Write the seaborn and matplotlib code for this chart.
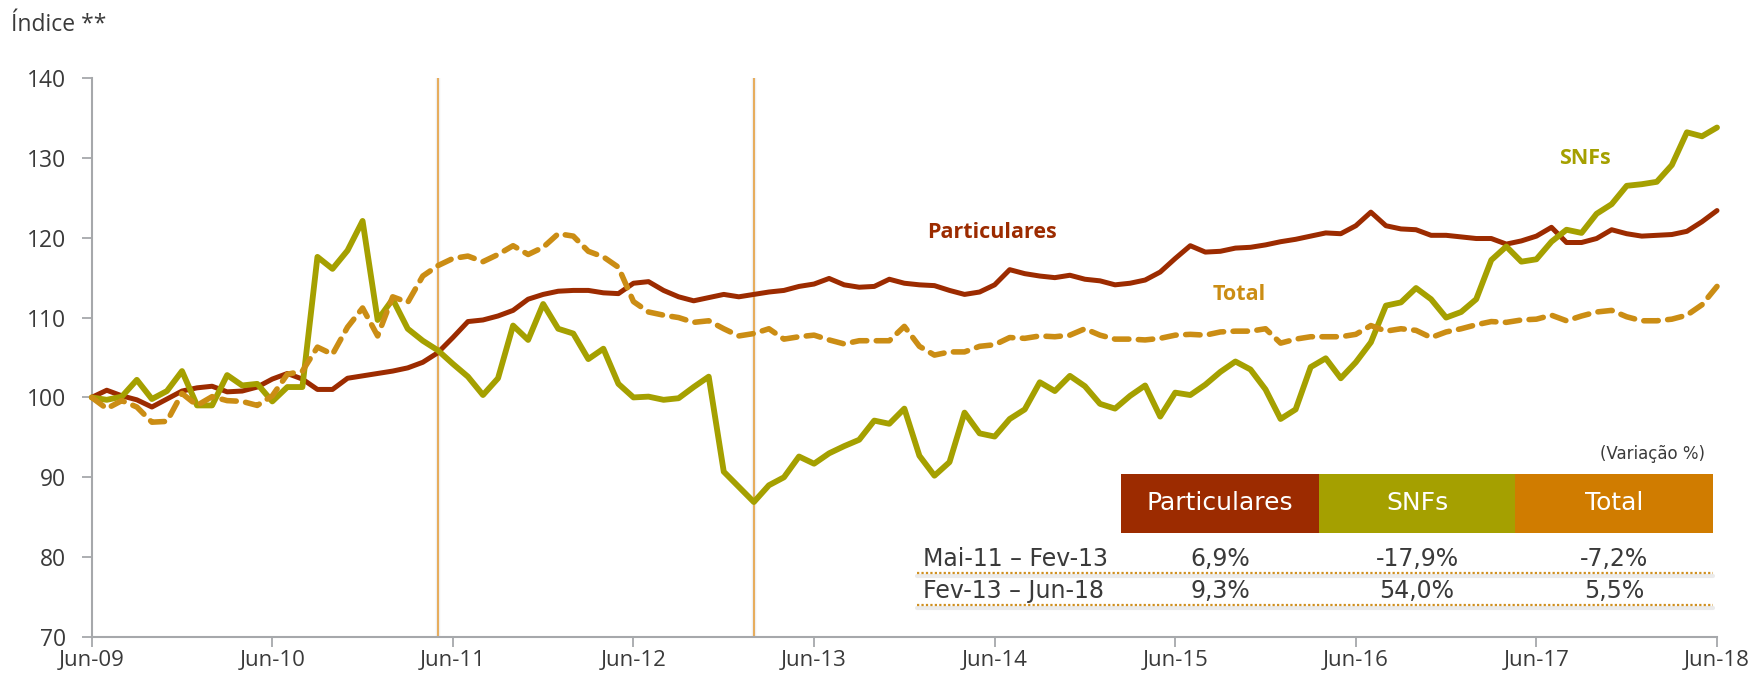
import numpy as np
import pandas as pd
import matplotlib
matplotlib.use("Agg")
import matplotlib.pyplot as plt
from matplotlib.patches import Rectangle
from matplotlib.lines import Line2D
import seaborn as sns

# Monthly index (Jun-09 = 100), Jun-09 .. Jun-18
particulares = [
    100.0, 100.9, 100.2, 99.7, 98.8, 99.8, 100.8, 101.2, 101.4, 100.7, 100.8, 101.3,
    102.3, 103.0, 102.3, 101.0, 101.0, 102.4, 102.7, 103.0, 103.3, 103.7, 104.4, 105.6,
    107.5, 109.5, 109.7, 110.2, 110.9, 112.3, 112.9, 113.3, 113.4, 113.4, 113.1, 113.0,
    114.3, 114.5, 113.4, 112.6, 112.1, 112.5, 112.9, 112.6, 112.9, 113.2, 113.4, 113.9,
    114.2, 114.9, 114.1, 113.8, 113.9, 114.8, 114.3, 114.1, 114.0, 113.4, 112.9, 113.2,
    114.1, 116.0, 115.5, 115.2, 115.0, 115.3, 114.8, 114.6, 114.1, 114.3, 114.7, 115.7,
    117.4, 119.0, 118.2, 118.3, 118.7, 118.8, 119.1, 119.5, 119.8, 120.2, 120.6, 120.5,
    121.5, 123.2, 121.5, 121.1, 121.0, 120.3, 120.3, 120.1, 119.9, 119.9, 119.2, 119.6,
    120.2, 121.3, 119.4, 119.4, 119.9, 121.0, 120.5, 120.2, 120.3, 120.4, 120.8, 122.0,
    123.4,
]
snfs = [
    100.0, 99.7, 100.1, 102.2, 99.8, 100.8, 103.3, 99.0, 99.0, 102.8, 101.5, 101.7,
    99.5, 101.3, 101.3, 117.6, 116.1, 118.4, 122.1, 109.7, 112.3, 108.6, 107.1, 105.9,
    104.2, 102.6, 100.3, 102.4, 109.0, 107.2, 111.7, 108.6, 108.0, 104.8, 106.1, 101.7,
    100.0, 100.1, 99.7, 99.9, 101.3, 102.6, 90.7, 88.8, 86.9, 89.0, 90.0, 92.6,
    91.7, 93.0, 93.9, 94.7, 97.1, 96.7, 98.6, 92.7, 90.2, 91.9, 98.1, 95.5,
    95.1, 97.3, 98.5, 101.9, 100.8, 102.7, 101.4, 99.2, 98.6, 100.2, 101.5, 97.6,
    100.6, 100.3, 101.6, 103.2, 104.5, 103.5, 101.0, 97.3, 98.5, 103.8, 104.9, 102.4,
    104.4, 106.9, 111.5, 111.9, 113.7, 112.3, 110.0, 110.7, 112.3, 117.2, 118.9, 117.0,
    117.3, 119.5, 121.0, 120.6, 123.0, 124.2, 126.5, 126.7, 127.0, 129.1, 133.2, 132.7,
    133.8,
]
total = [
    100.0, 98.6, 99.6, 98.8, 96.9, 97.0, 100.5, 99.0, 100.1, 99.6, 99.5, 99.0,
    100.2, 102.9, 103.3, 106.3, 105.4, 108.8, 111.2, 107.7, 112.6, 111.9, 115.2, 116.5,
    117.4, 117.7, 117.0, 117.9, 119.0, 117.9, 118.8, 120.5, 120.2, 118.3, 117.6, 116.3,
    112.0, 110.7, 110.3, 110.0, 109.4, 109.6, 108.6, 107.7, 108.0, 108.6, 107.3, 107.6,
    107.8, 107.2, 106.7, 107.1, 107.1, 107.1, 108.9, 106.4, 105.3, 105.7, 105.7, 106.4,
    106.6, 107.5, 107.4, 107.7, 107.6, 107.8, 108.6, 107.8, 107.3, 107.3, 107.2, 107.4,
    107.8, 107.9, 107.8, 108.2, 108.3, 108.3, 108.6, 106.8, 107.3, 107.6, 107.6, 107.6,
    107.9, 109.0, 108.3, 108.6, 108.4, 107.5, 108.2, 108.6, 109.1, 109.5, 109.4, 109.7,
    109.8, 110.3, 109.6, 110.2, 110.7, 110.9, 110.1, 109.6, 109.6, 109.8, 110.3, 111.6,
    113.9,
]
tick_labels = ["Jun-09", "Jun-10", "Jun-11", "Jun-12", "Jun-13",
               "Jun-14", "Jun-15", "Jun-16", "Jun-17", "Jun-18"]
y_ticks = [70, 80, 90, 100, 110, 120, 130, 140]
period_marks = [23, 44]  # Mai-11 and Fev-13

table_cols = ["Particulares", "SNFs", "Total"]
table_rows = ["Mai-11 \u2013 Fev-13", "Fev-13 \u2013 Jun-18"]
table_vals = [["6,9%", "-17,9%", "-7,2%"],
              ["9,3%", "54,0%", "5,5%"]]

C_PART = "#9C2B00"
C_SNF = "#A5A000"
C_TOT = "#CB8D14"
C_TOT_HDR = "#D07C00"
C_AXIS = "#A6A8AB"
C_TEXT = "#3A3A3A"

sns.set_theme(style="white")
plt.rcParams["font.family"] = ["Open Sans", "DejaVu Sans"]

months = np.arange(len(particulares))
df = pd.DataFrame({"mes": months, "Particulares": particulares,
                   "SNFs": snfs, "Total": total})

W, H = 1753, 680
fig = plt.figure(figsize=(W / 100, H / 100), dpi=100)
ax = fig.add_axes([91.7 / W, 1 - 637 / H, (1717 - 91.7) / W, (637 - 78) / H])

def fx(px):
    return px / W

def fy(py):
    return 1 - py / H

# period markers
for m in period_marks:
    ax.axvline(m, color="#9a9a9a", alpha=0.15, lw=3.2, zorder=1)
    ax.axvline(m, color="#E6A040", lw=1.2, zorder=1.5)

sns.lineplot(data=df, x="mes", y="Particulares", ax=ax, color=C_PART,
             lw=3.6, zorder=3, clip_on=False)
sns.lineplot(data=df, x="mes", y="SNFs", ax=ax, color=C_SNF,
             lw=4.2, zorder=4, clip_on=False)
sns.lineplot(data=df, x="mes", y="Total", ax=ax, color=C_TOT,
             lw=4.0, zorder=5, clip_on=False)
tot_line = ax.get_lines()[-1]
tot_line.set_dashes((2.6, 1.7))
tot_line.set_dash_capstyle("round")

ax.set_xlim(0, 108)
ax.set_ylim(70, 140)
ax.set_xticks(np.arange(0, 109, 12))
ax.set_xticklabels(tick_labels)
ax.set_yticks(y_ticks)
ax.set_xlabel("")
ax.set_ylabel("")
for s in ["top", "right"]:
    ax.spines[s].set_visible(False)
for s in ["left", "bottom"]:
    ax.spines[s].set_color(C_AXIS)
    ax.spines[s].set_linewidth(1.5)
ax.tick_params(axis="y", direction="out", length=7.5, width=1.3, color=C_AXIS,
               labelsize=16.5, labelcolor=C_TEXT, pad=11, left=True)
ax.tick_params(axis="x", direction="out", length=7, width=1.3, color=C_AXIS,
               labelsize=16, labelcolor=C_TEXT, pad=2.5, bottom=True)
ax.grid(False)

fig.text(fx(11), fy(25), "\u00cdndice **", fontsize=16.5, color=C_TEXT,
         ha="left", va="center")

# series labels
fig.text(fx(992), fy(232), "Particulares", fontsize=15.5, fontweight="bold",
         color=C_PART, ha="center", va="center")
fig.text(fx(1239), fy(294), "Total", fontsize=15.5, fontweight="bold",
         color=C_TOT, ha="center", va="center")
fig.text(fx(1585), fy(158), "SNFs", fontsize=15.5, fontweight="bold",
         color=C_SNF, ha="center", va="center")

# summary table
narrow = ["Liberation Sans Narrow", "DejaVu Sans"]
hdr_x = [1121, 1319, 1515, 1713]
hdr_colors = [C_PART, C_SNF, C_TOT_HDR]
hdr_top, hdr_bot = 474, 533
for i, name in enumerate(table_cols):
    x0, x1 = hdr_x[i], hdr_x[i + 1]
    fig.add_artist(Rectangle((fx(x0), fy(hdr_bot)), fx(x1) - fx(x0),
                             fy(hdr_top) - fy(hdr_bot), transform=fig.transFigure,
                             facecolor=hdr_colors[i], edgecolor="none", zorder=6))
    fig.text(fx((x0 + x1) / 2), fy((hdr_top + hdr_bot) / 2), name,
             family=narrow, fontsize=18, color="white",
             ha="center", va="center", zorder=7)

fig.text(fx(1705), fy(454), "(Varia\u00e7\u00e3o %)", family=narrow,
         fontsize=12, color=C_TEXT, ha="right", va="center")

row_y = [559, 591]
rule_y = [573, 605]
for r, label in enumerate(table_rows):
    fig.text(fx(923), fy(row_y[r]), label, family=narrow, fontsize=17,
             color=C_TEXT, ha="left", va="center", zorder=7)
    for c in range(3):
        cx = (hdr_x[c] + hdr_x[c + 1]) / 2
        fig.text(fx(cx), fy(row_y[r]), table_vals[r][c], family=narrow,
                 fontsize=17, color=C_TEXT, ha="center", va="center", zorder=7)
    fig.add_artist(Line2D([fx(917), fx(1713)], [fy(rule_y[r] + 3), fy(rule_y[r] + 3)],
                          transform=fig.transFigure, color="#d8d8d8", lw=3,
                          alpha=0.5, zorder=6))
    fig.add_artist(Line2D([fx(917), fx(1713)], [fy(rule_y[r]), fy(rule_y[r])],
                          transform=fig.transFigure, color="#D09020", lw=1.6,
                          linestyle=(0, (1, 1)), zorder=7))

fig.savefig("out.png", dpi=100, facecolor="white")
